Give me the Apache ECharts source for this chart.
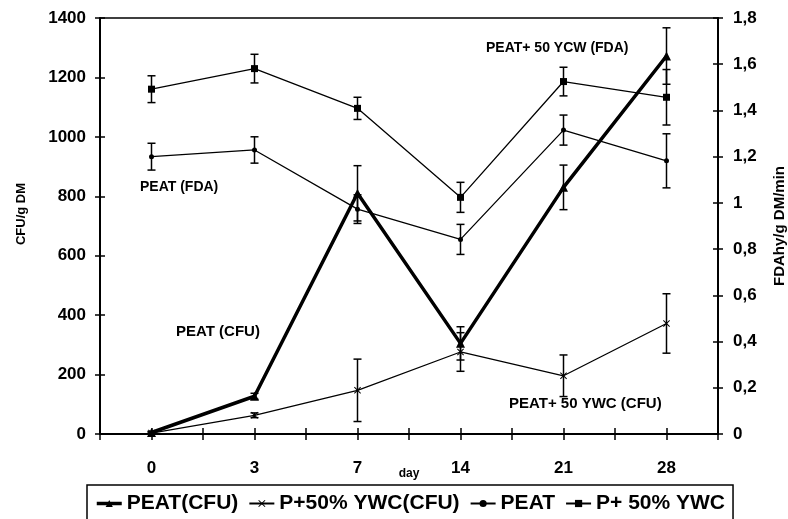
<!DOCTYPE html>
<html>
<head>
<meta charset="utf-8">
<script src="https://cdn.jsdelivr.net/npm/echarts@6/dist/echarts.min.js"></script>
<style>
  html, body { margin: 0; padding: 0; background: #fff; }
  #chart { width: 788px; height: 519px; }
</style>
</head>
<body>
<div id="chart"></div>
<script>
// sampling days
var days = ['0', '3', '7', '14', '21', '28'];

// colony counts, left axis (CFU/g DM)
var peatCfu = [5, 127, 810, 305, 830, 1272];
var peatCfuErr = [4, 10, 93, 56, 75, 95];
var ywcCfu = [3, 63, 147, 276, 196, 372];
var ywcCfuErr = [3, 8, 105, 65, 70, 100];

// FDA hydrolysis, right axis
var peatFda = [1.20, 1.229, 0.973, 0.842, 1.315, 1.182];
var peatFdaErr = [0.058, 0.057, 0.062, 0.065, 0.065, 0.117];
var ywcFda = [1.492, 1.581, 1.409, 1.024, 1.525, 1.457];
var ywcFdaErr = [0.058, 0.062, 0.048, 0.065, 0.062, 0.12];

var leftTicks = { min: 0, max: 1400, interval: 200 };
var rightTicks = { min: 0, max: 1.8, interval: 0.2 };

var FONT = 'Liberation Sans, Arial, sans-serif';
var crossSym = 'path://M0,1L1,0L5,4L9,0L10,1L6,5L10,9L9,10L5,6L1,10L0,9L4,5Z';

function errData(vals, errs) {
    return vals.map(function (v, i) {
        return [i, v - errs[i], v + errs[i]];
    });
}

function renderErr(params, api) {
    var x = api.value(0);
    var lo = api.coord([x, api.value(1)]);
    var hi = api.coord([x, api.value(2)]);
    var w = 4;
    var st = { stroke: '#000', lineWidth: 1.5 };
    return {
        type: 'group',
        children: [
            { type: 'line', shape: { x1: lo[0], y1: lo[1], x2: hi[0], y2: hi[1] }, style: st },
            { type: 'line', shape: { x1: lo[0] - w, y1: lo[1], x2: lo[0] + w, y2: lo[1] }, style: st },
            { type: 'line', shape: { x1: hi[0] - w, y1: hi[1], x2: hi[0] + w, y2: hi[1] }, style: st }
        ]
    };
}

function errSeries(vals, errs, yIdx) {
    return {
        type: 'custom',
        xAxisIndex: 0,
        yAxisIndex: yIdx,
        renderItem: renderErr,
        encode: { x: 0, y: [1, 2] },
        data: errData(vals, errs),
        silent: true,
        z: 2
    };
}

function tickOnlyX(align, inside) {
    return {
        type: 'category',
        position: 'bottom',
        data: days,
        boundaryGap: true,
        axisLine: { show: false },
        axisLabel: { show: false },
        axisTick: { show: true, alignWithLabel: align, inside: inside, length: 6, lineStyle: { color: '#000', width: 1.5 } },
        splitLine: { show: false }
    };
}

function tickOnlyY(pos, ticks) {
    return {
        type: 'value',
        position: pos,
        min: ticks.min,
        max: ticks.max,
        interval: ticks.interval,
        axisLine: { show: false },
        axisLabel: { show: false },
        axisTick: { show: true, inside: true, length: 5, lineStyle: { color: '#000', width: 1.5 } },
        splitLine: { show: false }
    };
}

var myChart = echarts.init(document.getElementById('chart'));
var option = {
    animation: false,
    backgroundColor: '#fff',
    textStyle: { fontFamily: FONT },
    grid: { left: 100, right: 70, top: 18, bottom: 85, outerBoundsMode: 'none', containLabel: false },
    legend: {
        left: 87,
        top: 485,
        padding: [8, 8, 12, 8],
        borderColor: '#000',
        borderWidth: 1.5,
        itemGap: 10,
        itemWidth: 25,
        itemHeight: 9,
        textStyle: { fontFamily: FONT, fontSize: 21, fontWeight: 'bold', color: '#000' },
        data: [
            { name: 'PEAT(CFU)', lineStyle: { width: 3.5 } },
            'P+50% YWC(CFU)',
            'PEAT',
            'P+ 50% YWC'
        ]
    },
    xAxis: [
        {
            type: 'category',
            position: 'bottom',
            data: days,
            boundaryGap: true,
            name: 'day',
            nameLocation: 'middle',
            nameGap: 34,
            nameMoveOverlap: false,
            nameTextStyle: { fontFamily: FONT, fontSize: 12, fontWeight: 'bold', color: '#000' },
            axisLine: { lineStyle: { color: '#000', width: 2 } },
            axisTick: { show: true, length: 6, lineStyle: { color: '#000', width: 1.5 } },
            axisLabel: { margin: 26, fontFamily: FONT, fontSize: 17, fontWeight: 'bold', color: '#000' },
            splitLine: { show: false }
        },
        tickOnlyX(false, true),
        tickOnlyX(true, false),
        tickOnlyX(true, true),
        {
            type: 'category',
            position: 'top',
            data: days,
            axisLine: { lineStyle: { color: '#000', width: 1.5 } },
            axisTick: { show: false },
            axisLabel: { show: false },
            splitLine: { show: false }
        }
    ],
    yAxis: [
        {
            type: 'value',
            position: 'left',
            min: leftTicks.min,
            max: leftTicks.max,
            interval: leftTicks.interval,
            name: 'CFU/g DM',
            nameLocation: 'middle',
            nameGap: 72,
            nameMoveOverlap: false,
            nameTextStyle: { fontFamily: FONT, fontSize: 13, fontWeight: 'bold', color: '#000', padding: [0, 0, 0, 24] },
            axisLine: { show: true, lineStyle: { color: '#000', width: 2 } },
            axisTick: { show: true, length: 5, lineStyle: { color: '#000', width: 1.5 } },
            axisLabel: {
                margin: 14, fontFamily: FONT, fontSize: 17, fontWeight: 'bold', color: '#000',
                formatter: function (v) { return String(v); }
            },
            splitLine: { show: false }
        },
        {
            type: 'value',
            position: 'right',
            min: rightTicks.min,
            max: rightTicks.max,
            interval: rightTicks.interval,
            name: 'FDAhy/g DM/min',
            nameLocation: 'middle',
            nameGap: 54,
            nameMoveOverlap: false,
            nameTextStyle: { fontFamily: FONT, fontSize: 15, fontWeight: 'bold', color: '#000' },
            axisLine: { show: true, lineStyle: { color: '#000', width: 2 } },
            axisTick: { show: true, length: 5, lineStyle: { color: '#000', width: 1.5 } },
            axisLabel: {
                margin: 15, fontFamily: FONT, fontSize: 17, fontWeight: 'bold', color: '#000',
                formatter: function (v) { return String(+v.toFixed(1)).replace('.', ','); }
            },
            splitLine: { show: false }
        },
        tickOnlyY('left', leftTicks),
        tickOnlyY('right', rightTicks)
    ],
    graphic: [
        { type: 'text', left: 140, top: 180, style: { text: 'PEAT (FDA)', font: 'bold 14px ' + FONT, fill: '#000' } },
        { type: 'text', left: 486, top: 41, style: { text: 'PEAT+ 50 YCW (FDA)', font: 'bold 14px ' + FONT, fill: '#000' } },
        { type: 'text', left: 176, top: 324, style: { text: 'PEAT (CFU)', font: 'bold 15px ' + FONT, fill: '#000' } },
        { type: 'text', left: 509, top: 396, style: { text: 'PEAT+ 50 YWC (CFU)', font: 'bold 15px ' + FONT, fill: '#000' } }
    ],
    series: [
        errSeries(peatCfu, peatCfuErr, 0),
        errSeries(ywcCfu, ywcCfuErr, 0),
        errSeries(peatFda, peatFdaErr, 1),
        errSeries(ywcFda, ywcFdaErr, 1),
        {
            name: 'PEAT(CFU)',
            type: 'line',
            xAxisIndex: 0,
            yAxisIndex: 0,
            data: peatCfu,
            symbol: 'triangle',
            symbolSize: 9,
            itemStyle: { color: '#000' },
            lineStyle: { color: '#000', width: 3.5 },
            z: 4
        },
        {
            name: 'P+50% YWC(CFU)',
            type: 'line',
            xAxisIndex: 0,
            yAxisIndex: 0,
            data: ywcCfu,
            symbol: crossSym,
            symbolSize: 7,
            itemStyle: { color: '#000' },
            lineStyle: { color: '#000', width: 1.3 },
            z: 3
        },
        {
            name: 'PEAT',
            type: 'line',
            xAxisIndex: 0,
            yAxisIndex: 1,
            data: peatFda,
            symbol: 'circle',
            symbolSize: 5,
            itemStyle: { color: '#000' },
            lineStyle: { color: '#000', width: 1.3 },
            z: 3
        },
        {
            name: 'P+ 50% YWC',
            type: 'line',
            xAxisIndex: 0,
            yAxisIndex: 1,
            data: ywcFda,
            symbol: 'rect',
            symbolSize: 7,
            itemStyle: { color: '#000' },
            lineStyle: { color: '#000', width: 1.3 },
            z: 3
        }
    ]
};
myChart.setOption(option);
</script>
</body>
</html>
